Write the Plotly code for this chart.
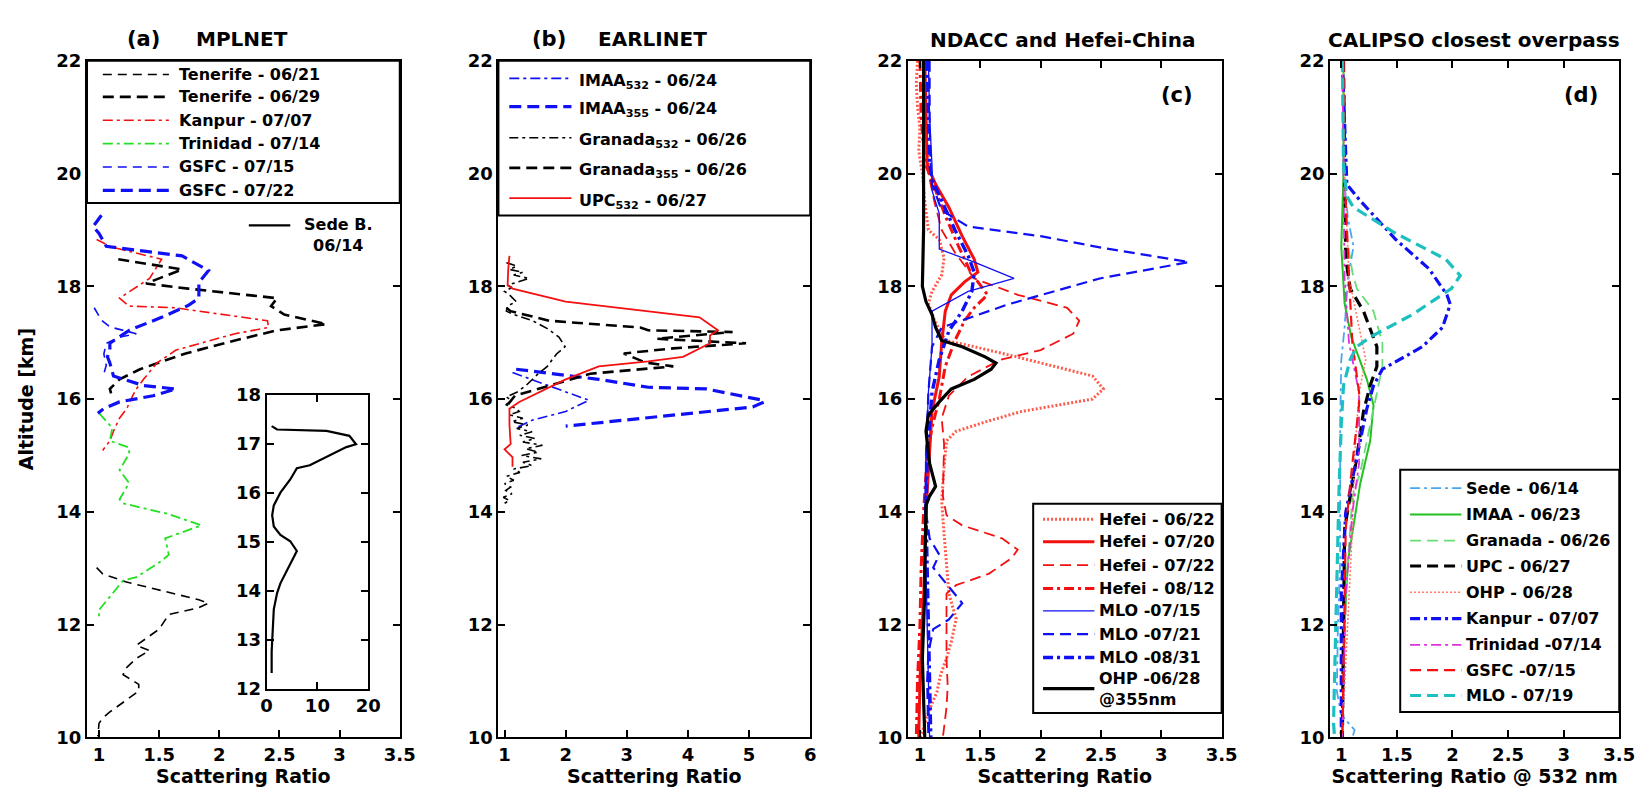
import plotly.graph_objects as go

W, H = 1645, 788
FONT = "DejaVu Sans"

# ---------------- DATA ----------------
# Panel (a) MPLNET : altitude [km] and scattering ratio
a_names = ["Tenerife - 06/21", "Tenerife - 06/29", "Kanpur - 07/07",
           "Trinidad - 07/14", "GSFC - 07/15", "GSFC - 07/22"]
a_ten0621_alt = [13.01, 12.90, 12.76, 12.44, 12.38, 12.30, 12.18, 11.92, 11.63, 11.54, 11.40,
                 11.22, 11.11, 10.94, 10.82, 10.65, 10.45, 10.34, 10.25, 10.02]
a_ten0621_sr = [0.98, 1.03, 1.22, 1.83, 1.91, 1.83, 1.58, 1.50, 1.31, 1.42, 1.31,
                1.22, 1.20, 1.33, 1.33, 1.22, 1.09, 1.03, 1.00, 0.99]
a_ten0629_alt = [18.48, 18.30, 18.05, 17.96, 17.79, 17.65, 17.50, 17.33, 17.22, 17.04, 16.81,
                 16.53, 16.35, 16.18, 16.10]
a_ten0629_sr = [1.16, 1.69, 1.39, 1.74, 2.48, 2.43, 2.54, 2.89, 2.48, 2.13, 1.72,
                1.34, 1.17, 1.09, 1.10]
a_kan0707_alt = [18.83, 18.70, 18.48, 18.14, 17.79, 17.65, 17.62, 17.39, 17.27, 17.16, 16.87,
                 16.64, 16.35, 16.18, 16.06, 15.83, 15.66, 15.43, 15.26, 15.09]
a_kan0707_sr = [0.98, 1.10, 1.52, 1.42, 1.17, 1.25, 1.63, 2.40, 2.41, 2.13, 1.64,
                1.48, 1.37, 1.31, 1.28, 1.23, 1.17, 1.12, 1.09, 1.03]
a_tri0714_alt = [15.75, 15.49, 15.26, 15.14, 15.03, 14.74, 14.51, 14.22, 14.15, 13.96, 13.76,
                 13.53, 13.24, 13.13, 12.84, 12.78, 12.26, 12.15]
a_tri0714_sr = [1.00, 1.11, 1.09, 1.25, 1.25, 1.17, 1.25, 1.17, 1.20, 1.58, 1.85,
                1.55, 1.58, 1.52, 1.31, 1.20, 1.00, 1.00]
a_gsfc0715_alt = [17.62, 17.40, 17.28, 17.16, 17.10, 16.99, 16.80, 16.60, 16.45]
a_gsfc0715_sr = [0.96, 1.02, 1.09, 1.31, 1.17, 1.06, 1.04, 1.06, 1.04]
a_gsfc0722_alt = [19.26, 19.06, 18.94, 18.71, 18.54, 18.28, 18.07, 17.79, 17.66, 17.45, 17.22,
                  16.99, 16.87, 16.75, 16.64, 16.41, 16.24, 16.18, 16.06, 15.95, 15.83, 15.75]
a_gsfc0722_sr = [1.02, 0.95, 1.00, 1.06, 1.69, 1.91, 1.83, 1.83, 1.74, 1.52, 1.25,
                 1.09, 1.09, 1.07, 1.09, 1.12, 1.37, 1.64, 1.45, 1.17, 1.04, 0.99]

# Inset: Sede Boker 06/14
inset_name = "Sede B.<br>06/14"
inset_alt = [12.32, 12.76, 13.62, 13.95, 14.15, 14.41, 14.81, 15.01, 15.14, 15.31, 15.54, 15.74,
             16.00, 16.27, 16.50, 16.56, 16.76, 16.93, 16.99, 17.16, 17.26, 17.29, 17.36]
inset_sr = [1.0, 1.0, 1.42, 2.07, 2.72, 4.0, 5.96, 4.66, 2.72, 1.42, 1.1, 1.42,
            2.72, 4.66, 5.96, 8.5, 12.4, 15.7, 17.6, 16.3, 11.8, 2.07, 1.0]

# Panel (b) EARLINET
b_names = ["IMAA<sub>532</sub> - 06/24", "IMAA<sub>355</sub> - 06/24",
           "Granada<sub>532</sub> - 06/26", "Granada<sub>355</sub> - 06/26",
           "UPC<sub>532</sub> - 06/27"]
b_imaa532_alt = [16.47, 16.24, 15.98, 15.78, 15.63, 15.49]
b_imaa532_sr = [1.13, 1.73, 2.38, 2.00, 1.46, 1.19]
b_imaa355_alt = [16.53, 16.35, 16.21, 16.18, 15.98, 15.95, 15.86, 15.66, 15.63, 15.52]
b_imaa355_sr = [1.19, 2.54, 3.35, 4.30, 5.22, 5.25, 5.06, 3.22, 3.00, 2.00]
b_gra532_alt = [18.42, 18.36, 18.30, 18.25, 18.20, 18.14, 18.08, 18.02, 17.98, 17.91, 17.85,
                17.80, 17.73, 17.65, 17.56, 17.50, 17.45, 17.39, 17.25, 17.10, 16.93, 16.80,
                16.70, 16.58, 16.47, 16.35, 16.24, 16.12, 16.04, 15.97, 15.90, 15.84, 15.78,
                15.72, 15.66, 15.60, 15.54, 15.48, 15.42, 15.36, 15.30, 15.24, 15.18, 15.12,
                15.06, 15.00, 14.94, 14.88, 14.82, 14.76, 14.70, 14.63, 14.56, 14.50, 14.44,
                14.38, 14.32, 14.26, 14.20, 14.14]
b_gra532_sr = [1.03, 1.20, 1.08, 1.30, 1.15, 1.40, 1.22, 1.05, 1.12, 1.00, 1.08,
               1.12, 1.19, 1.05, 1.03, 1.15, 1.30, 1.46, 1.70, 1.89, 1.99, 1.85,
               1.78, 1.70, 1.57, 1.45, 1.35, 1.20, 1.03, 1.12, 1.02, 1.18, 1.24,
               1.08, 1.30, 1.12, 1.38, 1.20, 1.45, 1.25, 1.50, 1.30, 1.62, 1.35,
               1.55, 1.28, 1.60, 1.30, 1.45, 1.15, 1.25, 1.03, 1.15, 1.00, 1.10,
               1.02, 1.12, 0.98, 1.08, 0.98]
b_gra355_alt = [17.62, 17.56, 17.39, 17.27, 17.22, 17.19, 17.07, 16.99, 16.90, 16.81, 16.65,
                16.58, 16.45, 16.24, 16.06, 15.90]
b_gra355_sr = [1.03, 1.10, 1.73, 3.22, 3.35, 4.73, 3.49, 4.95, 3.76, 2.95, 3.30,
               3.76, 2.40, 1.73, 1.17, 1.05]
b_upc532_alt = [18.54, 18.30, 18.02, 17.96, 17.73, 17.56, 17.45, 17.22, 17.13, 16.99, 16.75,
                16.67, 16.58, 16.35, 16.12, 15.95, 15.83, 15.55, 15.20, 15.11, 14.97, 14.80]
b_upc532_sr = [1.08, 1.06, 1.05, 1.13, 2.00, 3.35, 4.19, 4.49, 4.36, 4.36, 3.92,
               3.35, 2.54, 2.00, 1.57, 1.24, 1.08, 1.08, 1.10, 1.00, 1.13, 1.13]

# Panel (c) NDACC and Hefei-China
c_names = ["Hefei - 06/22", "Hefei - 07/20", "Hefei - 07/22", "Hefei - 08/12",
           "MLO -07/15", "MLO -07/21", "MLO -08/31", "OHP -06/28<br>@355nm"]
c_hef0622_alt = [22.0, 21.6, 21.2, 20.8, 20.4, 20.0, 19.5, 19.0, 18.83, 18.5, 18.2, 17.91, 17.7,
                 17.4, 17.04, 16.93, 16.75, 16.64, 16.41, 16.18, 16.0, 15.78, 15.6, 15.43, 15.26,
                 14.8, 14.2, 13.6, 13.0, 12.55, 12.1, 11.7, 11.4, 11.1, 10.8, 10.5, 10.1, 10.0]
c_hef0622_sr = [0.98, 0.97, 0.98, 1.00, 0.99, 1.02, 1.04, 1.07, 1.16, 1.20, 1.18, 1.10, 1.07,
                1.12, 1.21, 1.45, 1.80, 2.00, 2.43, 2.52, 2.43, 1.84, 1.55, 1.30, 1.22,
                1.20, 1.18, 1.20, 1.22, 1.24, 1.30, 1.26, 1.22, 1.17, 1.14, 1.08, 1.02, 1.00]
c_hef0720_alt = [22.0, 21.0, 20.15, 19.81, 19.40, 18.89, 18.48, 18.25, 18.08, 17.85, 17.56,
                 17.0, 16.4, 15.78, 15.0, 14.0, 13.0, 12.0, 11.0, 10.0]
c_hef0720_sr = [1.04, 1.05, 1.06, 1.13, 1.24, 1.35, 1.45, 1.48, 1.37, 1.26, 1.21,
                1.18, 1.16, 1.10, 1.08, 1.05, 1.04, 1.02, 1.00, 0.99]
c_hef0722_alt = [22.0, 21.0, 20.0, 19.5, 19.0, 18.6, 18.14, 17.85, 17.62, 17.39, 17.16, 16.87,
                 16.70, 16.4, 16.06, 15.66, 15.2, 14.6, 14.28, 13.94, 13.76, 13.53, 13.33,
                 13.18, 12.9, 12.70, 12.55, 12.0, 11.4, 10.9, 10.53, 10.0]
c_hef0722_sr = [1.04, 1.05, 1.07, 1.12, 1.18, 1.29, 1.45, 1.81, 2.22, 2.32, 2.27, 2.00,
                1.67, 1.40, 1.24, 1.18, 1.20, 1.19, 1.19, 1.22, 1.35, 1.68, 1.81,
                1.76, 1.57, 1.30, 1.22, 1.22, 1.22, 1.23, 1.22, 1.19]
c_hef0812_alt = [22.0, 21.0, 20.2, 19.7, 19.2, 18.71, 18.25, 17.85, 17.62, 17.39, 17.04,
                 16.58, 16.0, 15.5, 15.0, 14.0, 13.0, 12.0, 11.0, 10.0]
c_hef0812_sr = [1.00, 1.01, 1.04, 1.13, 1.22, 1.32, 1.42, 1.56, 1.45, 1.37, 1.29,
                1.21, 1.16, 1.10, 1.06, 1.03, 1.01, 1.00, 0.98, 0.97]
c_mlo0715_alt = [22.0, 21.0, 20.15, 19.7, 19.29, 18.66, 18.43, 18.14, 17.91, 17.56, 16.93,
                 16.12, 15.0, 14.0, 13.0, 12.0, 11.0, 10.0]
c_mlo0715_sr = [1.07, 1.08, 1.10, 1.10, 1.16, 1.16, 1.45, 1.78, 1.40, 1.10, 1.10,
                1.07, 1.05, 1.04, 1.05, 1.06, 1.07, 1.08]
c_mlo0721_alt = [22.0, 21.0, 20.0, 19.81, 19.35, 19.06, 18.89, 18.68, 18.43, 18.14, 17.68,
                 17.27, 16.93, 16.12, 15.0, 14.0, 13.53, 13.24, 13.01, 12.38, 12.09, 11.92,
                 11.5, 11.0, 10.0]
c_mlo0721_sr = [1.08, 1.08, 1.09, 1.10, 1.18, 1.40, 2.00, 2.52, 3.23, 2.49, 1.73,
                1.18, 1.10, 1.07, 1.05, 1.05, 1.08, 1.16, 1.11, 1.35, 1.24, 1.11,
                1.07, 1.06, 1.07]
c_mlo0831_alt = [22.0, 21.0, 20.2, 19.9, 19.0, 18.54, 18.25, 17.91, 17.56, 17.21, 16.7,
                 16.12, 15.0, 14.0, 13.0, 12.0, 11.0, 10.0]
c_mlo0831_sr = [1.06, 1.07, 1.08, 1.10, 1.29, 1.40, 1.45, 1.43, 1.35, 1.24, 1.16,
                1.10, 1.06, 1.05, 1.06, 1.07, 1.08, 1.09]
c_ohp0628_alt = [22.0, 21.0, 20.15, 19.0, 18.0, 17.73, 17.50, 17.27, 17.04, 16.93, 16.75,
                 16.64, 16.53, 16.35, 16.18, 15.95, 15.72, 15.43, 14.86, 14.45, 14.28, 14.11,
                 13.0, 12.55, 11.40, 10.0]
c_ohp0628_sr = [1.03, 1.03, 1.03, 1.03, 1.02, 1.05, 1.10, 1.13, 1.18, 1.35, 1.54,
                1.63, 1.59, 1.45, 1.26, 1.16, 1.07, 1.05, 1.08, 1.13, 1.08, 1.05,
                1.04, 1.04, 1.02, 1.04]

# Panel (d) CALIPSO closest overpass
d_names = ["Sede - 06/14", "IMAA - 06/23", "Granada - 06/26", "UPC - 06/27", "OHP - 06/28",
           "Kanpur - 07/07", "Trinidad -07/14", "GSFC -07/15", "MLO - 07/19"]
d_sede_alt = [22.0, 20.0, 19.2, 18.71, 18.14, 17.27, 16.7, 15.55, 14.0, 13.13, 12.0, 10.82,
              10.4, 10.13, 10.0]
d_sede_sr = [1.01, 1.02, 1.06, 1.11, 1.06, 1.03, 1.00, 0.99, 0.99, 0.99, 0.97, 0.96,
             1.00, 1.12, 1.10]
d_imaa_alt = [22.0, 20.0, 18.7, 17.7, 17.1, 16.35, 15.89, 15.26, 14.5, 13.13, 12.0, 10.25, 10.0]
d_imaa_sr = [1.02, 1.02, 1.00, 1.03, 1.09, 1.23, 1.29, 1.26, 1.17, 1.06, 1.03, 1.01, 1.01]
d_gran_alt = [22.0, 20.0, 19.0, 18.25, 17.96, 17.56, 16.99, 16.58, 16.12, 15.55, 14.69,
              14.28, 12.55, 10.25, 10.0]
d_gran_sr = [1.02, 1.03, 1.04, 1.10, 1.14, 1.29, 1.37, 1.37, 1.32, 1.26, 1.17,
             1.10, 1.04, 1.01, 1.01]
d_upc_alt = [22.0, 20.0, 18.5, 17.96, 17.56, 16.93, 16.58, 16.24, 15.78, 14.97, 14.2, 13.7,
             12.0, 10.06, 10.0]
d_upc_sr = [1.02, 1.03, 1.04, 1.08, 1.20, 1.32, 1.32, 1.26, 1.20, 1.14, 1.07, 1.03,
            1.02, 1.01, 1.01]
d_ohp_alt = [22.0, 20.0, 18.14, 17.27, 16.70, 16.12, 15.0, 13.7, 11.4, 10.13]
d_ohp_sr = [1.02, 1.03, 1.07, 1.16, 1.22, 1.16, 1.12, 1.10, 1.04, 1.01]
d_kan_alt = [22.0, 20.0, 19.81, 19.52, 18.83, 18.31, 17.85, 17.68, 17.27, 16.93, 16.53,
             16.24, 15.83, 14.97, 14.4, 13.99, 12.55, 10.06, 10.0]
d_kan_sr = [1.01, 1.04, 1.05, 1.17, 1.49, 1.79, 1.95, 1.98, 1.91, 1.73, 1.37,
            1.29, 1.23, 1.14, 1.08, 1.04, 1.00, 1.00, 1.00]
d_tri_alt = [22.0, 20.0, 18.14, 16.99, 16.12, 14.86, 13.99, 12.55, 10.25, 10.0]
d_tri_sr = [1.01, 1.02, 1.03, 1.07, 1.16, 1.16, 1.10, 1.04, 1.01, 1.01]
d_gsfc_alt = [22.0, 20.0, 18.14, 16.99, 16.12, 15.9, 14.86, 13.7, 10.06]
d_gsfc_sr = [1.02, 1.03, 1.07, 1.10, 1.16, 1.16, 1.10, 1.04, 1.01]
d_mlo_alt = [22.0, 20.15, 19.6, 19.40, 18.94, 18.48, 18.19, 17.96, 17.50, 17.10, 16.93, 16.70,
             16.24, 15.55, 14.40, 12.55, 10.25, 10.0]
d_mlo_sr = [1.01, 1.02, 1.05, 1.11, 1.49, 1.94, 2.07, 1.99, 1.64, 1.26, 1.14, 1.08,
            1.02, 1.00, 0.98, 0.96, 0.93, 0.94]

# tick values
alt_ticks = [10, 12, 14, 16, 18, 20, 22]
sr_ticks = [1, 1.5, 2, 2.5, 3, 3.5]
sr_ticks_b = [1, 2, 3, 4, 5, 6]
inset_alt_ticks = [12, 13, 14, 15, 16, 17, 18]
inset_sr_ticks = [0, 10, 20]

# ---------------- STYLES ----------------
RED, BLUE, BLK, GRN = "#f41010", "#1010f4", "#000000", "#22e022"
DD = "10px,4px,3px,4px"      # dash-dot
DS = "11px,6px"              # dash
DT = "2px,2px"               # dot

a_styles = [(BLK, 1.6, "9px,6px"), (BLK, 2.6, DS), (RED, 1.6, DD), (GRN, 1.8, DD),
            (BLUE, 1.6, "9px,6px"), (BLUE, 3.2, "12px,6px")]
b_styles = [(BLUE, 1.6, DD), (BLUE, 3.2, "12px,6px"), (BLK, 1.6, "9px,4px,3px,4px"),
            (BLK, 2.6, DS), (RED, 1.8, "solid")]
c_styles = [("#ff5a4a", 3.0, DT), (RED, 3.0, "solid"), (RED, 1.8, DS), (RED, 3.0, DD),
            (BLUE, 1.3, "solid"), (BLUE, 2.2, DS), (BLUE, 3.4, DD), (BLK, 3.2, "solid")]
d_styles = [("#4aa6ee", 1.8, DD), ("#22c022", 2.0, "solid"), ("#66dd77", 1.8, DS),
            (BLK, 3.2, DS), ("#ff7a6a", 1.6, DT), (BLUE, 3.2, DD), ("#dd33dd", 1.8, DD),
            (RED, 2.2, DS), ("#1cc0c0", 3.2, DS)]

a_data = [(a_ten0621_sr, a_ten0621_alt), (a_ten0629_sr, a_ten0629_alt),
          (a_kan0707_sr, a_kan0707_alt), (a_tri0714_sr, a_tri0714_alt),
          (a_gsfc0715_sr, a_gsfc0715_alt), (a_gsfc0722_sr, a_gsfc0722_alt)]
b_data = [(b_imaa532_sr, b_imaa532_alt), (b_imaa355_sr, b_imaa355_alt),
          (b_gra532_sr, b_gra532_alt), (b_gra355_sr, b_gra355_alt),
          (b_upc532_sr, b_upc532_alt)]
c_data = [(c_hef0622_sr, c_hef0622_alt), (c_hef0720_sr, c_hef0720_alt),
          (c_hef0722_sr, c_hef0722_alt), (c_hef0812_sr, c_hef0812_alt),
          (c_mlo0715_sr, c_mlo0715_alt), (c_mlo0721_sr, c_mlo0721_alt),
          (c_mlo0831_sr, c_mlo0831_alt), (c_ohp0628_sr, c_ohp0628_alt)]
d_data = [(d_sede_sr, d_sede_alt), (d_imaa_sr, d_imaa_alt), (d_gran_sr, d_gran_alt),
          (d_upc_sr, d_upc_alt), (d_ohp_sr, d_ohp_alt), (d_kan_sr, d_kan_alt),
          (d_tri_sr, d_tri_alt), (d_gsfc_sr, d_gsfc_alt), (d_mlo_sr, d_mlo_alt)]


def PX(px):
    return px / W


def PY(py):
    return 1 - py / H


fig = go.Figure()


def add_panel(data, names, styles, xa, ya):
    for (xs, ys), nm, (col, wd, ds) in zip(data, names, styles):
        fig.add_trace(go.Scatter(x=xs, y=ys, name=nm.replace("<br>", " "), mode="lines",
                                 line=dict(color=col, width=wd, dash=ds),
                                 xaxis=xa, yaxis=ya, showlegend=False))


add_panel(a_data, a_names, a_styles, "x", "y")
add_panel(b_data, b_names, b_styles, "x2", "y2")
add_panel(c_data, c_names, c_styles, "x3", "y3")
add_panel(d_data, d_names, d_styles, "x4", "y4")
fig.add_trace(go.Scatter(x=inset_sr, y=inset_alt, name="Sede B. 06/14", mode="lines",
                         line=dict(color=BLK, width=2.2), xaxis="x5", yaxis="y5",
                         showlegend=False))

tickfont = dict(family=FONT, size=18, color="black", weight="bold")
titlefont = dict(family=FONT, size=19, color="black", weight="bold")


def axis(domain, rng, ticks, anchor, title=None, standoff=None):
    d = dict(domain=domain, range=rng, tickvals=ticks, ticks="inside", ticklen=7,
             tickwidth=2, tickcolor="black", showline=True, linewidth=2,
             linecolor="black", mirror="ticks", showgrid=False, zeroline=False,
             tickfont=tickfont, anchor=anchor, fixedrange=True)
    if title:
        d["title"] = dict(text=title, font=titlefont, standoff=standoff)
    return d


ydom = [PY(738), PY(43)]
fig.update_layout(
    width=W, height=H, autosize=False,
    margin=dict(l=0, r=0, t=0, b=0),
    paper_bgcolor="white", plot_bgcolor="white",
    xaxis=axis([PX(74), PX(391)], [0.9, 3.5], sr_ticks, "y", "Scattering Ratio", 4),
    yaxis=axis(ydom, [10, 22], alt_ticks, "x", "Altitude [km]", 18),
    xaxis2=axis([PX(491), PX(807)], [0.9, 6.0], sr_ticks_b, "y2", "Scattering Ratio", 4),
    yaxis2=axis(ydom, [10, 22], alt_ticks, "x2"),
    xaxis3=axis([PX(906), PX(1224)], [0.9, 3.5], sr_ticks, "y3", "Scattering Ratio", 4),
    yaxis3=axis(ydom, [10, 22], alt_ticks, "x3"),
    xaxis4=axis([PX(1334), PX(1627)], [0.9, 3.5], sr_ticks, "y4",
                "Scattering Ratio @ 532 nm", 4),
    yaxis4=axis(ydom, [10, 22], alt_ticks, "x4"),
    xaxis5=axis([PX(256), PX(359)], [0, 20], inset_sr_ticks, "y5"),
    yaxis5=axis([PY(688), PY(386)], [12, 18], inset_alt_ticks, "x5"),
)

shapes = []
annotations = []


def legend_box(l, t, r, b):
    shapes.append(dict(type="rect", xref="paper", yref="paper", x0=PX(l), x1=PX(r),
                       y0=PY(b), y1=PY(t), line=dict(color="black", width=2),
                       fillcolor="white", layer="above"))


def legend_rows(names, styles, x0, x1, xt, ys, dy_text=0, size=16):
    for nm, (col, wd, ds), y in zip(names, styles, ys):
        shapes.append(dict(type="line", xref="paper", yref="paper", x0=PX(x0), x1=PX(x1),
                           y0=PY(y), y1=PY(y), line=dict(color=col, width=wd, dash=ds),
                           layer="above"))
        annotations.append(dict(text=nm, xref="paper", yref="paper", x=PX(xt),
                                y=PY(y + dy_text), xanchor="left", yanchor="middle",
                                align="left", showarrow=False,
                                font=dict(family=FONT, size=size, color="black",
                                          weight="bold")))


# (a) legend
legend_box(74, 43, 391, 189)
legend_rows(a_names, a_styles, 90, 157, 165, [57, 80, 104, 128, 152, 176])
legend_rows([inset_name], [(BLK, 2.4, "solid")], 238, 280, 292, [212], dy_text=10)
annotations[-1].update(align="center")
# (b) legend
legend_box(491, 43, 807, 202)
legend_rows(b_names, b_styles, 502, 565, 571, [61, 90, 122, 153, 184], dy_text=3)
# (c) legend
legend_box(1033, 498, 1224, 713)
legend_rows(c_names, c_styles, 1043, 1095, 1098,
            [514, 537, 561, 585, 608, 632, 656, 688], dy_text=0)
# (d) legend
legend_box(1405, 463, 1627, 712)
legend_rows(d_names, d_styles, 1415, 1467, 1470,
            [482, 509, 536, 562, 589, 616, 643, 669, 695])


# panel titles
def label(text, x, y, size=20):
    annotations.append(dict(text=text, xref="paper", yref="paper", x=PX(x), y=PY(y),
                            xanchor="center", yanchor="middle", showarrow=False,
                            font=dict(family=FONT, size=size, color="black", weight="bold")))


label("(a)", 131, 21, 21)
label("MPLNET", 231, 21)
label("(b)", 542, 21, 21)
label("EARLINET", 647, 21)
label("NDACC and Hefei-China", 1063, 22)
label("CALIPSO closest overpass", 1480, 22)
label("(c)", 1179, 78, 21)
label("(d)", 1588, 78, 21)

fig.update_layout(shapes=shapes, annotations=annotations)
fig.write_html("out.html")
